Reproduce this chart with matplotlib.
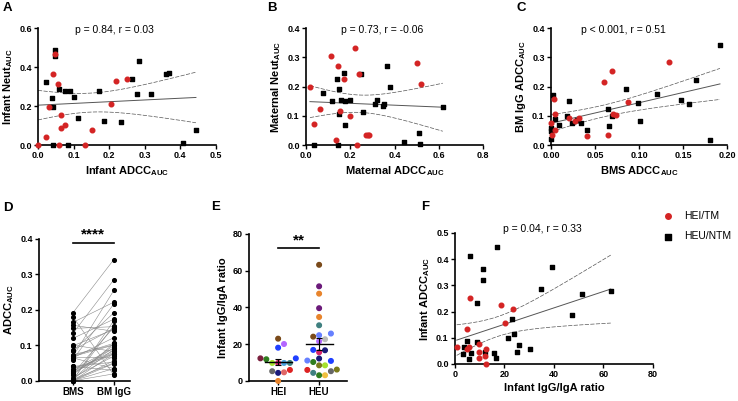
import matplotlib

matplotlib.use("Agg")

import matplotlib.pyplot as plt
import numpy as np

plt.rcParams["font.family"] = ["Liberation Sans", "DejaVu Sans"]
plt.rcParams["mathtext.fontset"] = "custom"
plt.rcParams["mathtext.rm"] = "Liberation Sans"
plt.rcParams["mathtext.bf"] = "Liberation Sans:bold"

RED = "#d42424"

# Panel A: infant ADCC vs infant neutralisation
a_tm_x = [0.0, 0.022, 0.031, 0.042, 0.047, 0.056, 0.059, 0.066, 0.064, 0.077,
          0.131, 0.153, 0.206, 0.220, 0.250]
a_tm_y = [0.0, 0.043, 0.196, 0.366, 0.468, 0.312, 0.0, 0.153, 0.090, 0.104,
          0.0, 0.077, 0.213, 0.329, 0.339]
a_ntm_x = [0.0235, 0.047, 0.049, 0.038, 0.042, 0.059, 0.075, 0.089, 0.100, 0.113,
           0.042, 0.084, 0.172, 0.186, 0.232, 0.265, 0.277, 0.283, 0.319, 0.361,
           0.369, 0.408, 0.444]
a_ntm_y = [0.324, 0.489, 0.455, 0.244, 0.196, 0.290, 0.278, 0.278, 0.247, 0.141,
           0.0, 0.0, 0.278, 0.124, 0.118, 0.341, 0.264, 0.431, 0.264, 0.366,
           0.370, 0.012, 0.077]

# Panel B: maternal ADCC vs maternal neutralisation
b_tm_x = [0.018, 0.036, 0.063, 0.113, 0.134, 0.144, 0.153, 0.171, 0.201, 0.221,
          0.229, 0.239, 0.269, 0.278, 0.284, 0.501, 0.520]
b_tm_y = [0.198, 0.072, 0.125, 0.305, 0.018, 0.269, 0.116, 0.227, 0.098, 0.332,
          0.0, 0.243, 0.035, 0.035, 0.035, 0.279, 0.209]
b_ntm_x = [0.036, 0.075, 0.116, 0.142, 0.146, 0.147, 0.150, 0.156, 0.171, 0.176,
           0.176, 0.198, 0.248, 0.259, 0.311, 0.323, 0.349, 0.352, 0.367, 0.379,
           0.444, 0.511, 0.517, 0.618]
b_ntm_y = [0.0, 0.177, 0.151, 0.226, 0.0, 0.107, 0.192, 0.155, 0.245, 0.151,
           0.070, 0.153, 0.243, 0.114, 0.142, 0.155, 0.133, 0.141, 0.270, 0.198,
           0.010, 0.042, 0.003, 0.130]

# Panel C: BMS ADCC vs BM IgG ADCC (also the pairs of panel D)
c_tm_x = [0.0, 0.0008, 0.0038, 0.0049, 0.0045, 0.021, 0.027, 0.032, 0.041, 0.060,
          0.065, 0.069, 0.071, 0.074, 0.087, 0.134]
c_tm_y = [0.077, 0.035, 0.156, 0.106, 0.051, 0.093, 0.081, 0.093, 0.030, 0.217,
          0.035, 0.255, 0.106, 0.102, 0.148, 0.285]
c_ntm_x = [0.0004, 0.0004, 0.0004, 0.0023, 0.0049, 0.0094, 0.018, 0.021, 0.024, 0.029,
           0.034, 0.041, 0.065, 0.066, 0.069, 0.085, 0.099, 0.101, 0.120, 0.148,
           0.157, 0.165, 0.181, 0.192]
c_ntm_y = [0.020, 0.057, 0.049, 0.170, 0.089, 0.070, 0.100, 0.151, 0.077, 0.085,
           0.077, 0.053, 0.122, 0.065, 0.101, 0.192, 0.145, 0.083, 0.174, 0.153,
           0.140, 0.222, 0.017, 0.342]

# Panel E: infant IgG/IgA ratio
e_hei = [0.0, 5.3, 4.4, 4.7, 6.0, 9.8, 11.8, 9.8, 9.8, 9.8, 12.3, 12.3, 20.1, 18.1, 23.0]
e_heu = [63.2, 51.5, 47.5, 39.6, 34.8, 30.3, 25.8, 24.1, 24.9, 21.6, 22.7, 15.6, 16.7,
         16.9, 11.1, 10.3, 10.9, 12.2, 8.5, 6.0, 5.3, 6.2, 8.5, 3.1, 3.1, 4.4]
e_hei_colors = ["#e8842c", "#666666", "#1a1a7a", "#e06666", "#dd2222", "#d6246e",
                "#2e7d1e", "#4aa3df", "#a6e22e", "#3f8080", "#1f3fff", "#7a1f3d",
                "#b366ff", "#1f3fff", "#7a4a1a"]
e_heu_colors = ["#7a4a1a", "#6b1a7a", "#e8842c", "#6b1a7a", "#e8842c", "#3f8080",
                "#6680ff", "#7a4a1a", "#6680ff", "#b366ff", "#bbbbbb", "#d6246e",
                "#1a1a7a", "#1f3fff", "#6680ff", "#2e7d1e", "#1f3fff", "#1a1a7a",
                "#a6e22e", "#dd2222", "#666666", "#7a7a1a", "#7a7a1a", "#f0c040",
                "#2e7d1e", "#3f8080"]

# Panel F: infant IgG/IgA ratio vs infant ADCC
f_tm_x = [0.7, 5.0, 5.0, 5.7, 6.2, 9.9, 9.9, 9.9, 12.1, 12.6, 12.6, 18.5, 20.2, 23.3]
f_tm_y = [0.065, 0.132, 0.059, 0.063, 0.251, 0.078, 0.046, 0.022, 0.031, 0.058,
          0.0, 0.224, 0.155, 0.208]
f_ntm_x = [3.4, 3.6, 4.7, 5.5, 6.2, 6.5, 8.8, 8.8, 11.2, 11.2, 12.1, 15.8, 16.9, 16.6,
           21.6, 22.9, 24.0, 25.0, 25.9, 30.4, 34.8, 39.3, 47.2, 51.3, 63.0]
f_ntm_y = [0.037, 0.065, 0.088, 0.020, 0.410, 0.040, 0.231, 0.082, 0.364, 0.321,
           0.046, 0.040, 0.446, 0.024, 0.098, 0.171, 0.113, 0.047, 0.074, 0.059,
           0.285, 0.371, 0.185, 0.267, 0.279]


def style_axes(ax):
    for side in ["top", "right"]:
        ax.spines[side].set_visible(False)
    for side in ["left", "bottom"]:
        ax.spines[side].set_linewidth(1.2)
    ax.tick_params(width=1.0, length=3, labelsize=6.5, pad=1.5)
    for label in ax.get_xticklabels() + ax.get_yticklabels():
        label.set_fontweight("bold")


def fit_band(ax, x, y):
    x = np.asarray(x)
    y = np.asarray(y)
    n = len(x)
    slope, intercept = np.polyfit(x, y, 1)
    resid = y - (slope * x + intercept)
    s = np.sqrt(np.sum(resid ** 2) / (n - 2))
    sxx = np.sum((x - x.mean()) ** 2)
    xs = np.linspace(x.min(), x.max(), 100)
    ys = slope * xs + intercept
    half = 2.02 * s * np.sqrt(1 / n + (xs - x.mean()) ** 2 / sxx)
    ax.plot(xs, ys, color="#555555", lw=0.7, zorder=1)
    ax.plot(xs, ys + half, color="#555555", lw=0.5, ls=(0, (6, 2)), zorder=1)
    ax.plot(xs, ys - half, color="#555555", lw=0.5, ls=(0, (6, 2)), zorder=1)


def scatter_panel(ax, tm_x, tm_y, ntm_x, ntm_y, text, text_x, text_y):
    fit_band(ax, tm_x + ntm_x, tm_y + ntm_y)
    ax.scatter(ntm_x, ntm_y, marker="s", s=11, color="black", label="HEU/NTM",
               zorder=3, clip_on=False)
    ax.scatter(tm_x, tm_y, marker="o", s=11, color=RED, label="HEI/TM",
               zorder=4, clip_on=False)
    ax.text(text_x, text_y, text, transform=ax.transAxes, ha="center",
            va="center", fontsize=7.5)


def swarm_offsets(values, px_per_x, px_per_y, diameter):
    # simple beeswarm: place each point at the nearest free slot from the centre
    order = np.argsort(values)
    placed = []
    offsets = np.zeros(len(values))
    for i in order:
        yv = values[i] * px_per_y
        k = 0
        while True:
            candidates = [0.0] if k == 0 else [k * diameter, -k * diameter]
            done = False
            for c in candidates:
                ok = all((c - px) ** 2 + (yv - py) ** 2 >= diameter ** 2 * 0.95
                         for px, py in placed)
                if ok:
                    placed.append((c, yv))
                    offsets[i] = c / px_per_x
                    done = True
                    break
            if done:
                break
            k += 1
    return offsets


def main():
    fig = plt.figure(figsize=(7.38, 4.01), dpi=100)
    label_kw = dict(fontsize=8, fontweight="bold")

    # A
    ax_a = fig.add_axes([0.0515, 0.638, 0.241, 0.292])
    scatter_panel(ax_a, a_tm_x, a_tm_y, a_ntm_x, a_ntm_y,
                  "p = 0.84, r = 0.03", 0.43, 0.98)
    ax_a.set_xlim(0, 0.5)
    ax_a.set_ylim(0, 0.6)
    ax_a.set_xticks([0.0, 0.1, 0.2, 0.3, 0.4, 0.5])
    ax_a.set_yticks([0.0, 0.2, 0.4, 0.6])
    ax_a.set_xlabel(r"Infant ADCC$_{\bf{AUC}}$", labelpad=3, **label_kw)
    ax_a.set_ylabel(r"Infant Neut$_{\bf{AUC}}$", labelpad=3, **label_kw)
    style_axes(ax_a)

    # B
    ax_b = fig.add_axes([0.4146, 0.638, 0.240, 0.292])
    scatter_panel(ax_b, b_tm_x, b_tm_y, b_ntm_x, b_ntm_y,
                  "p = 0.73, r = -0.06", 0.43, 0.98)
    ax_b.set_xlim(0, 0.8)
    ax_b.set_ylim(0, 0.4)
    ax_b.set_xticks([0.0, 0.2, 0.4, 0.6, 0.8])
    ax_b.set_yticks([0.0, 0.1, 0.2, 0.3, 0.4])
    ax_b.set_xlabel(r"Maternal ADCC$_{\bf{AUC}}$", labelpad=3, **label_kw)
    ax_b.set_ylabel(r"Maternal Neut$_{\bf{AUC}}$", labelpad=3, **label_kw)
    style_axes(ax_b)

    # C
    ax_c = fig.add_axes([0.7466, 0.638, 0.2385, 0.292])
    scatter_panel(ax_c, c_tm_x, c_tm_y, c_ntm_x, c_ntm_y,
                  "p < 0.001, r = 0.51", 0.41, 0.98)
    ax_c.set_xlim(0, 0.2)
    ax_c.set_ylim(0, 0.4)
    ax_c.set_xticks([0.0, 0.05, 0.10, 0.15, 0.20])
    ax_c.set_xticklabels(["0.00", "0.05", "0.10", "0.15", "0.20"])
    ax_c.set_yticks([0.0, 0.1, 0.2, 0.3, 0.4])
    ax_c.set_xlabel(r"BMS ADCC$_{\bf{AUC}}$", labelpad=3, **label_kw)
    ax_c.set_ylabel(r"BM IgG ADCC$_{\bf{AUC}}$", labelpad=3, **label_kw)
    style_axes(ax_c)

    # D: paired BMS / BM IgG
    ax_d = fig.add_axes([0.0528, 0.05, 0.123, 0.354])
    bms = c_tm_x + c_ntm_x
    bm_igg = c_tm_y + c_ntm_y
    for before, after in zip(bms, bm_igg):
        ax_d.plot([0, 1], [before, after], color="#8a8a8a", lw=0.4, zorder=1)
    ax_d.scatter(np.zeros(len(bms)), bms, s=7, color="black", zorder=3, clip_on=False)
    ax_d.scatter(np.ones(len(bm_igg)), bm_igg, s=7, color="black", zorder=3, clip_on=False)
    ax_d.set_xlim(-0.83, 1.39)
    ax_d.set_ylim(0, 0.4)
    ax_d.set_xticks([0, 1])
    ax_d.set_xticklabels(["BMS", "BM IgG"])
    ax_d.set_yticks([0.0, 0.1, 0.2, 0.3, 0.4])
    ax_d.set_ylabel(r"ADCC$_{\bf{AUC}}$", labelpad=3, **label_kw)
    ax_d.plot([0, 1], [0.39, 0.39], color="black", lw=1.2, clip_on=False)
    ax_d.text(0.5, 0.392, "****", ha="center", va="bottom", fontsize=11,
              fontweight="bold")
    style_axes(ax_d)
    ax_d.tick_params(axis="x", labelsize=7)

    # E: IgG/IgA ratio by group
    ax_e = fig.add_axes([0.3374, 0.05, 0.1328, 0.3666])
    px_x = 41.0
    px_y = 147.0 / 80.0
    for pos, vals, cols in [(0, e_hei, e_hei_colors), (1, e_heu, e_heu_colors)]:
        vals = np.asarray(vals)
        offs = swarm_offsets(vals, px_x, px_y, 5.9)
        ax_e.scatter(pos + offs, vals, s=11, c=cols, zorder=3, clip_on=False)
        mean = vals.mean()
        sem = vals.std(ddof=1) / np.sqrt(len(vals))
        ax_e.plot([pos - 0.33, pos + 0.33], [mean, mean], color="black", lw=1.0, zorder=4)
        ax_e.errorbar(pos, mean, yerr=sem, color="black", lw=0.8, capsize=2.5,
                      capthick=0.8, zorder=4)
    ax_e.set_xlim(-0.71, 1.68)
    ax_e.set_ylim(0, 80)
    ax_e.set_xticks([0, 1])
    ax_e.set_xticklabels(["HEI", "HEU"])
    ax_e.set_yticks([0, 20, 40, 60, 80])
    ax_e.set_ylabel("Infant IgG/IgA ratio", labelpad=3, **label_kw)
    ax_e.plot([0, 1], [72.3, 72.3], color="black", lw=1.2, clip_on=False)
    ax_e.text(0.5, 72.8, "**", ha="center", va="bottom", fontsize=11,
              fontweight="bold")
    style_axes(ax_e)
    ax_e.tick_params(axis="x", labelsize=7)

    # F
    ax_f = fig.add_axes([0.6165, 0.0923, 0.268, 0.327])
    scatter_panel(ax_f, f_tm_x, f_tm_y, f_ntm_x, f_ntm_y,
                  "p = 0.04, r = 0.33", 0.44, 1.03)
    ax_f.set_xlim(0, 80)
    ax_f.set_ylim(0, 0.5)
    ax_f.set_xticks([0, 20, 40, 60, 80])
    ax_f.set_yticks([0.0, 0.1, 0.2, 0.3, 0.4, 0.5])
    ax_f.set_xlabel("Infant IgG/IgA ratio", labelpad=3, **label_kw)
    ax_f.set_ylabel(r"Infant ADCC$_{\bf{AUC}}$", labelpad=3, **label_kw)
    style_axes(ax_f)
    handles, labels = ax_f.get_legend_handles_labels()
    fig.legend(handles[::-1], labels[::-1], loc="upper left",
               bbox_to_anchor=(0.878, 0.497), frameon=False, fontsize=7.5,
               handletextpad=0.6, labelspacing=1.0, markerscale=1.2)

    for letter, x, y in [("A", 0.004, 0.995), ("B", 0.362, 0.995), ("C", 0.700, 0.995),
                         ("D", 0.004, 0.497), ("E", 0.286, 0.500), ("F", 0.571, 0.500)]:
        fig.text(x, y, letter, fontsize=9.5, fontweight="bold", va="top", ha="left")

    fig.savefig("out.png", dpi=100)
    plt.close(fig)


if __name__ == "__main__":
    main()
